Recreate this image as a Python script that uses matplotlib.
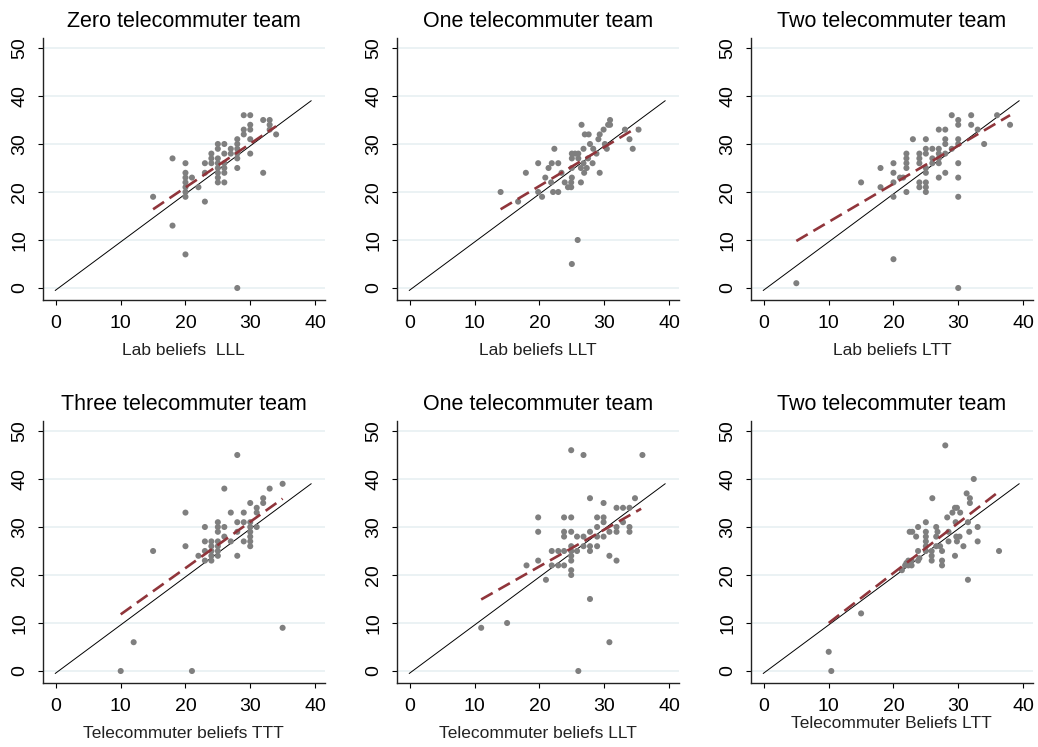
import numpy as np
import matplotlib.pyplot as plt

plt.rcParams['font.family'] = ['Liberation Sans', 'DejaVu Sans']

titles = ["Zero telecommuter team", "One telecommuter team", "Two telecommuter team",
          "Three telecommuter team", "One telecommuter team", "Two telecommuter team"]
xlabels = ["Lab beliefs  LLL", "Lab beliefs LLT", "Lab beliefs LTT",
           "Telecommuter beliefs TTT", "Telecommuter beliefs LLT", "Telecommuter Beliefs LTT"]

# panel 1: lab beliefs, zero telecommuter team
p1_x = [15, 18, 18, 20, 20, 20, 20, 20, 20, 20, 20, 21, 22, 23, 23, 23, 24, 24, 24,
        25, 25, 25, 25, 25, 25, 25, 25, 26, 26, 26, 26, 26, 26, 27, 27,
        28, 28, 28, 28, 28, 28, 28, 29, 29, 29, 30, 30, 30, 30, 30, 32, 32, 33, 33, 33, 34]
p1_y = [19, 27, 13, 26, 24, 23, 22, 21, 20, 19, 7, 23, 21, 26, 24, 18, 28, 27, 26,
        30, 29, 27, 26, 25, 24, 23, 22, 30, 28, 26, 25, 24, 22, 29, 28,
        31, 30, 29, 28, 27, 25, 0, 36, 33, 32, 36, 34, 33, 31, 28, 35, 24, 35, 34, 33, 32]
fit1_x = [15, 34]
fit1_y = [16.4, 33.7]

# panel 2: lab beliefs, one telecommuter team
p2_x = [14, 16.7, 17.9, 19.8, 19.8, 20.4, 20.9, 21.4, 21.9, 22.3, 21.8, 22.9, 22.1, 22.9,
        23.4, 23.9, 24.4, 24.9, 24.9, 25, 25, 25, 25, 25.5, 26, 26, 26.4, 26.5, 26.8, 26.8,
        26.9, 27, 27.6, 27.8, 28.3, 28.8, 29.3, 29.1, 29.3, 29.9, 30.1, 30.4, 30.6, 30.9,
        30.9, 33.2, 33.9, 34.4, 35.3, 25, 25.9, 27.3, 27.5, 28.2, 26.4]
p2_y = [20, 18, 24, 26, 20, 19, 23, 25, 26, 29, 22, 26, 20, 20,
        24, 22, 21, 21, 22, 28, 27, 25, 23, 28, 28, 27, 22, 34, 29, 26,
        24, 32, 32, 30, 29, 28, 24, 31, 32, 33, 30, 29, 34, 35,
        34, 33, 31, 29, 33, 5, 10, 25, 27, 26, 25]
fit2_x = [14, 35]
fit2_y = [16.4, 33.4]

# panel 3: lab beliefs, two telecommuter team
p3_x = [5, 15, 18, 18, 20, 20, 20, 20, 20, 21, 22, 22, 22, 22, 22, 23, 24, 24, 24, 24, 24,
        25, 25, 25, 25, 25, 25, 25, 25, 26, 26, 27, 27, 27, 27, 27, 27, 28, 28, 28, 28, 28,
        29, 29, 30, 30, 30, 30, 30, 30, 30, 30, 32, 32, 33, 34, 36, 38, 26, 21.5]
p3_y = [1, 22, 25, 21, 26, 24, 22, 19, 6, 23, 28, 27, 26, 25, 20, 31, 28, 27, 26, 22, 21,
        31, 29, 28, 25, 24, 22, 21, 20, 29, 27, 33, 29, 28, 27, 26, 23, 33, 31, 30, 28, 24,
        36, 29, 35, 34, 31, 30, 26, 23, 19, 0, 36, 34, 33, 30, 36, 34, 26, 23]
fit3_x = [5, 38]
fit3_y = [9.8, 36]

# panel 4: telecommuter beliefs, three telecommuter team
p4_x = [10, 12, 15, 20, 20, 21, 22, 23, 23, 23, 23, 24, 24, 24, 24, 24,
        25, 25, 25, 25, 25, 25, 25, 26, 26, 26, 27, 27, 28, 28, 28, 28, 29, 29, 29,
        30, 30, 30, 30, 30, 30, 30, 31, 31, 31, 32, 32, 33, 35, 35]
p4_y = [0, 6, 25, 33, 26, 0, 24, 30, 27, 25, 23, 27, 26, 25, 24, 23,
        31, 30, 29, 27, 26, 25, 24, 38, 30, 28, 33, 27, 45, 31, 29, 24, 33, 31, 27,
        35, 31, 30, 29, 28, 27, 26, 34, 33, 30, 36, 35, 38, 39, 9]
fit4_x = [10, 35]
fit4_y = [11.8, 35.9]

# panel 5: telecommuter beliefs, one telecommuter team
p5_x = [11, 15, 18, 19.8, 19.8, 19.8, 21, 21.9, 21.9, 22.9, 22.9, 23.8, 23.8, 23.8, 23.8,
        23.8, 24.9, 24.9, 24.9, 24.9, 24.9, 24.9, 24.9, 24.9, 24.9, 25.8, 25.8, 26, 26.8,
        26.8, 26.8, 27.8, 27.8, 27.8, 27.8, 27.8, 28.9, 28.9, 28.9, 28.9, 29.9, 29.9, 29.9,
        29.9, 30.8, 30.8, 30.8, 31.9, 31.9, 31.9, 31.9, 32.9, 32.9, 33.9, 33.9, 33.9, 34.75, 35.9]
p5_y = [9, 10, 22, 32, 29, 23, 19, 25, 22, 25, 22, 32, 29, 28, 22,
        25, 46, 32, 29, 26, 25, 24, 23, 21, 20, 28, 25, 0, 45,
        28, 26, 36, 29, 26, 25, 15, 32, 30, 28, 26, 35, 32, 31,
        28, 29, 24, 6, 34, 30, 29, 23, 34, 31, 34, 30, 29, 36, 45]
fit5_x = [11, 35.7]
fit5_y = [14.9, 33.8]

# panel 6: telecommuter beliefs, two telecommuter team
p6_x = [10, 10.4, 15, 21.3, 21.8, 22.3, 22.3, 22.8, 22.8, 22.5, 22.9, 23.5, 23.8, 23.8, 23.8,
        25, 25, 25, 25, 25, 25, 25.9, 25.9, 25.9, 26, 26.6, 26.8, 26.6, 26.6, 27.2, 27.5,
        27.5, 27.5, 28, 28.3, 28.5, 28.5, 29.1, 29.5, 29.8, 29.6, 29.7, 30.2, 29.8, 29.5,
        30.3, 30.8, 31.3, 31.5, 31.5, 31.8, 31.8, 31.7, 32.4, 33, 33, 36.3, 22, 24]
p6_y = [4, 0, 12, 21, 22, 23, 22, 23, 22, 29, 29, 28, 30, 25, 23,
        31, 29, 28, 27, 26, 25, 25, 24, 23, 36, 30, 29, 28, 26, 26, 25,
        23, 22, 47, 32, 29, 27, 33, 34, 34, 31, 28, 28, 27, 24,
        33, 26, 37, 31, 19, 36, 35, 29, 40, 30, 27, 25, 22.5, 23.5]
fit6_x = [10, 36.4]
fit6_y = [10, 37.5]

xs = [p1_x, p2_x, p3_x, p4_x, p5_x, p6_x]
ys = [p1_y, p2_y, p3_y, p4_y, p5_y, p6_y]
fits_x = [fit1_x, fit2_x, fit3_x, fit4_x, fit5_x, fit6_x]
fits_y = [fit1_y, fit2_y, fit3_y, fit4_y, fit5_y, fit6_y]

diag = np.array([0, 39.5])

W, H = 1038, 747
fig = plt.figure(figsize=(W / 100, H / 100), dpi=100)

# layout in pixels
col_left = [43, 397, 751]
row_top = [38.4, 421.4]
box_w, box_h = 281.7, 261.6

for i in range(6):
    r, c = divmod(i, 3)
    ax = fig.add_axes([col_left[c] / W, 1 - (row_top[r] + box_h) / H, box_w / W, box_h / H])
    ax.set_xlim(-2, 41.5)
    ax.set_ylim(-2.5, 52)
    ax.set_xticks([0, 10, 20, 30, 40])
    ax.set_yticks([0, 10, 20, 30, 40, 50])
    ax.grid(axis='y', color='#e6eff1', lw=1.1)
    ax.set_axisbelow(True)

    # 45-degree reference, observations, fitted line
    ax.plot(diag - 0.1, diag - 0.5, color='black', lw=0.7, zorder=2)
    ax.scatter(xs[i], ys[i], s=19, color='#7f7f7f', edgecolors='none', zorder=3)
    ax.plot(fits_x[i], fits_y[i], color='#90353b', lw=1.9, dashes=(5, 2.5), zorder=4)

    for s in ['top', 'right']:
        ax.spines[s].set_visible(False)
    for s in ['left', 'bottom']:
        ax.spines[s].set_linewidth(1.0)
        ax.spines[s].set_color('#222222')

    ax.tick_params(axis='x', length=3.6, width=0.8, pad=7, labelsize=14)
    ax.tick_params(axis='y', length=3.6, width=0.8, pad=7, labelsize=14, labelrotation=90)
    for lab in ax.get_yticklabels():
        lab.set_va('center')
        lab.set_family(['Liberation Sans Narrow', 'Liberation Sans'])

    ax.set_title(titles[i], fontsize=15.5, pad=8)
    ax.set_xlabel(xlabels[i], fontsize=12.5, color='#222222',
                  labelpad=1 if i == 5 else 8)

fig.savefig('out.png', dpi=100)
